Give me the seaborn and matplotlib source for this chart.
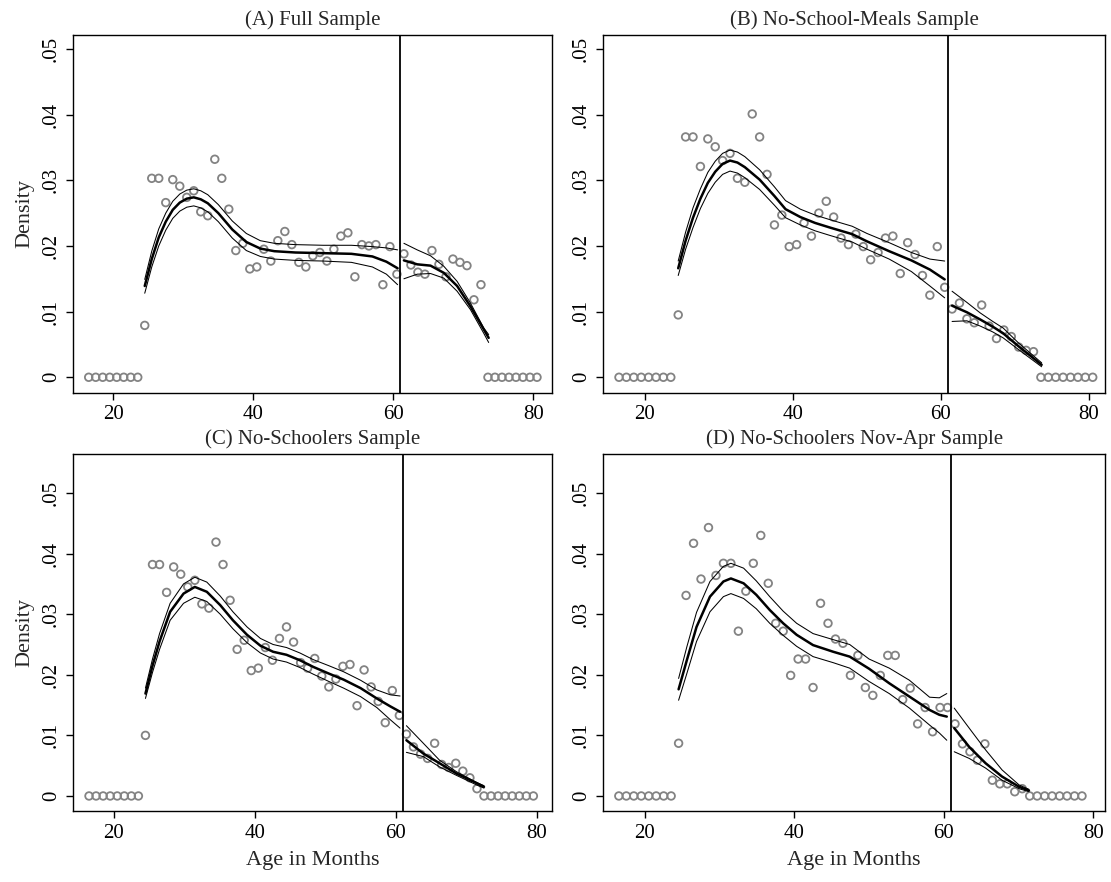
import numpy as np
import pandas as pd
import matplotlib
matplotlib.use("Agg")
import matplotlib.pyplot as plt
import seaborn as sns

# ---------------- data ----------------
CUTOFF = 61

AGES_A = [16.5, 17.5, 18.5, 19.5, 20.5, 21.5, 22.5, 23.5, 24.5, 25.5, 26.5, 27.5, 28.5, 29.5,
          30.5, 31.5, 32.5, 33.5, 34.5, 35.5, 36.5, 37.5, 38.5, 39.5, 40.5, 41.5, 42.5, 43.5,
          44.5, 45.5, 46.5, 47.5, 48.5, 49.5, 50.5, 51.5, 52.5, 53.5, 54.5, 55.5, 56.5, 57.5,
          58.5, 59.5, 60.5, 61.5, 62.5, 63.5, 64.5, 65.5, 66.5, 67.5, 68.5, 69.5, 70.5, 71.5,
          72.5, 73.5, 74.5, 75.5, 76.5, 77.5, 78.5, 79.5, 80.5]
AGES_B = AGES_A
AGES_C = AGES_A[:64]
AGES_D = AGES_A[:63]

DENS_A = [0, 0, 0, 0, 0, 0, 0, 0,
          0.0079, 0.0303, 0.0303, 0.0266, 0.0301, 0.0291, 0.0274, 0.0284, 0.0252, 0.0246,
          0.0332, 0.0303, 0.0256, 0.0193, 0.0204, 0.0165, 0.0168, 0.0195, 0.0177, 0.0208,
          0.0222, 0.0202, 0.0175, 0.0168, 0.0185, 0.0190, 0.0177, 0.0195, 0.0215, 0.0220,
          0.0153, 0.0202, 0.0200, 0.0202, 0.0141, 0.0199, 0.0157, 0.0188, 0.0171, 0.0160,
          0.0157, 0.0193, 0.0172, 0.0153, 0.0180, 0.0175, 0.0170, 0.0118, 0.0141,
          0, 0, 0, 0, 0, 0, 0, 0]
DENS_B = [0, 0, 0, 0, 0, 0, 0, 0,
          0.0095, 0.0366, 0.0366, 0.0321, 0.0363, 0.0351, 0.0330, 0.0341, 0.0303, 0.0297,
          0.0401, 0.0366, 0.0309, 0.0232, 0.0247, 0.0199, 0.0202, 0.0235, 0.0215, 0.0250,
          0.0268, 0.0244, 0.0212, 0.0202, 0.0218, 0.0199, 0.0179, 0.0190, 0.0212, 0.0215,
          0.0158, 0.0205, 0.0187, 0.0155, 0.0125, 0.0199, 0.0137, 0.0104, 0.0113, 0.0089,
          0.0083, 0.0110, 0.0078, 0.0059, 0.0072, 0.0062, 0.0046, 0.0041, 0.0039,
          0, 0, 0, 0, 0, 0, 0, 0]
DENS_C = [0, 0, 0, 0, 0, 0, 0, 0,
          0.0100, 0.0382, 0.0382, 0.0336, 0.0378, 0.0366, 0.0345, 0.0356, 0.0317, 0.0310,
          0.0419, 0.0382, 0.0323, 0.0242, 0.0257, 0.0207, 0.0211, 0.0245, 0.0224, 0.0260,
          0.0279, 0.0254, 0.0220, 0.0211, 0.0227, 0.0198, 0.0180, 0.0193, 0.0214, 0.0217,
          0.0149, 0.0208, 0.0180, 0.0156, 0.0121, 0.0174, 0.0133, 0.0102, 0.0081, 0.0069,
          0.0062, 0.0087, 0.0052, 0.0047, 0.0054, 0.0041, 0.0030, 0.0012,
          0, 0, 0, 0, 0, 0, 0, 0]
DENS_D = [0, 0, 0, 0, 0, 0, 0, 0,
          0.0087, 0.0331, 0.0417, 0.0358, 0.0443, 0.0364, 0.0384, 0.0384, 0.0272, 0.0338,
          0.0384, 0.0430, 0.0351, 0.0285, 0.0272, 0.0199, 0.0226, 0.0226, 0.0179, 0.0318,
          0.0285, 0.0259, 0.0252, 0.0199, 0.0232, 0.0179, 0.0166, 0.0199, 0.0232, 0.0232,
          0.0159, 0.0178, 0.0119, 0.0146, 0.0106, 0.0146, 0.0146, 0.0119, 0.0086, 0.0073,
          0.0059, 0.0086, 0.0026, 0.0020, 0.0020, 0.0007, 0.0012,
          0, 0, 0, 0, 0, 0, 0, 0]

# fitted density (left of cutoff / right of cutoff): estimate, lower CI, upper CI
FIT_A_LX = [24.5, 25.5, 26.5, 27.5, 28.5, 29.5, 30.5, 31.5, 32.5, 33.5, 35, 37, 39, 41, 43, 46, 50, 54, 57, 59, 60.6]
FIT_A_LM = [0.0139, 0.0180, 0.0213, 0.0237, 0.0255, 0.0266, 0.0272, 0.0274, 0.0271, 0.0265, 0.0250,
            0.0225, 0.0206, 0.0196, 0.0192, 0.0190, 0.0189, 0.0188, 0.0184, 0.0176, 0.0166]
FIT_A_LH = [0.0149, 0.0192, 0.0226, 0.0250, 0.0268, 0.0279, 0.0285, 0.0287, 0.0284, 0.0278, 0.0263,
            0.0238, 0.0219, 0.0208, 0.0204, 0.0202, 0.0201, 0.0201, 0.0199, 0.0197, 0.0194]
FIT_A_LL = [0.0128, 0.0168, 0.0200, 0.0224, 0.0242, 0.0253, 0.0259, 0.0261, 0.0258, 0.0252, 0.0237,
            0.0212, 0.0193, 0.0184, 0.0180, 0.0178, 0.0177, 0.0175, 0.0168, 0.0157, 0.0141]
FIT_A_RX = [61.5, 63.4, 65.3, 67.2, 69.1, 71.0, 72.9, 73.6]
FIT_A_RM = [0.0178, 0.0172, 0.0170, 0.0159, 0.0139, 0.0108, 0.0073, 0.0060]
FIT_A_RH = [0.0204, 0.0194, 0.0185, 0.0169, 0.0146, 0.0113, 0.0075, 0.0065]
FIT_A_RL = [0.0150, 0.0157, 0.0158, 0.0151, 0.0131, 0.0103, 0.0067, 0.0053]

FIT_B_LX = [24.5, 25.5, 26.5, 27.5, 28.5, 29.5, 30.5, 31.5, 32.5, 33.5, 35.5, 37.5, 39, 41, 43, 45, 48, 50, 53, 56, 58.5, 60.5]
FIT_B_LM = [0.0166, 0.0208, 0.0243, 0.0272, 0.0296, 0.0313, 0.0325, 0.0330, 0.0327, 0.0320, 0.0301,
            0.0276, 0.0256, 0.0244, 0.0235, 0.0228, 0.0218, 0.0207, 0.0192, 0.0178, 0.0164, 0.0149]
FIT_B_LH = [0.0177, 0.0221, 0.0258, 0.0287, 0.0312, 0.0329, 0.0341, 0.0346, 0.0343, 0.0336, 0.0316,
            0.0290, 0.0269, 0.0256, 0.0247, 0.0240, 0.0230, 0.0219, 0.0205, 0.0190, 0.0180, 0.0177]
FIT_B_LL = [0.0155, 0.0195, 0.0228, 0.0257, 0.0280, 0.0297, 0.0309, 0.0314, 0.0311, 0.0304, 0.0286,
            0.0262, 0.0243, 0.0232, 0.0223, 0.0216, 0.0206, 0.0195, 0.0180, 0.0161, 0.0139, 0.0121]
FIT_B_RX = [61.5, 63.5, 65.3, 67.0, 68.4, 70.5, 73.6]
FIT_B_RM = [0.0109, 0.0099, 0.0088, 0.0077, 0.0067, 0.0047, 0.0019]
FIT_B_RH = [0.0131, 0.0114, 0.0098, 0.0085, 0.0075, 0.0052, 0.0022]
FIT_B_RL = [0.0085, 0.0086, 0.0078, 0.0069, 0.0060, 0.0042, 0.0016]

FIT_C_LX = [24.5, 25.5, 26.5, 28.0, 29.9, 31.5, 33.2, 35.1, 36.9, 38.9, 40.8, 42.6, 44.5, 46.4, 48.3, 50.5, 52.6, 55.0, 57.3, 59.2, 60.6]
FIT_C_LM = [0.0169, 0.0215, 0.0255, 0.0304, 0.0334, 0.0345, 0.0337, 0.0315, 0.0290, 0.0266, 0.0248,
            0.0238, 0.0233, 0.0224, 0.0213, 0.0202, 0.0192, 0.0178, 0.0161, 0.0148, 0.0139]
FIT_C_LH = [0.0178, 0.0226, 0.0268, 0.0318, 0.0350, 0.0361, 0.0353, 0.0330, 0.0304, 0.0279, 0.0260,
            0.0250, 0.0245, 0.0236, 0.0225, 0.0215, 0.0205, 0.0191, 0.0175, 0.0167, 0.0165]
FIT_C_LL = [0.0161, 0.0204, 0.0242, 0.0290, 0.0318, 0.0328, 0.0321, 0.0300, 0.0276, 0.0253, 0.0236,
            0.0226, 0.0221, 0.0212, 0.0201, 0.0189, 0.0178, 0.0164, 0.0146, 0.0126, 0.0112]
FIT_C_RX = [61.5, 63.9, 66.2, 68.6, 71.5, 72.5]
FIT_C_RM = [0.0092, 0.0070, 0.0054, 0.0037, 0.0021, 0.0015]
FIT_C_RH = [0.0116, 0.0087, 0.0059, 0.0040, 0.0022, 0.0017]
FIT_C_RL = [0.0072, 0.0065, 0.0048, 0.0034, 0.0018, 0.0013]

FIT_D_LX = [24.5, 25.6, 26.9, 28.7, 30.5, 31.5, 33.2, 34.9, 36.7, 38.5, 40.3, 42.5, 45.2, 47.4, 50.0, 52.7, 55.4, 58.1, 59.4, 60.4]
FIT_D_LM = [0.0176, 0.0224, 0.0279, 0.0329, 0.0354, 0.0359, 0.0351, 0.0332, 0.0307, 0.0285, 0.0266,
            0.0249, 0.0238, 0.0230, 0.0210, 0.0186, 0.0164, 0.0142, 0.0134, 0.0131]
FIT_D_LH = [0.0194, 0.0246, 0.0303, 0.0354, 0.0379, 0.0384, 0.0376, 0.0355, 0.0329, 0.0305, 0.0285,
            0.0268, 0.0258, 0.0250, 0.0226, 0.0211, 0.0191, 0.0163, 0.0162, 0.0169]
FIT_D_LL = [0.0158, 0.0202, 0.0255, 0.0304, 0.0329, 0.0334, 0.0326, 0.0309, 0.0285, 0.0265, 0.0247,
            0.0230, 0.0220, 0.0211, 0.0189, 0.0169, 0.0145, 0.0117, 0.0104, 0.0092]
FIT_D_RX = [61.4, 63.4, 65.6, 67.8, 70.1, 71.4]
FIT_D_RM = [0.0112, 0.0081, 0.0054, 0.0032, 0.0015, 0.0009]
FIT_D_RH = [0.0145, 0.0112, 0.0076, 0.0043, 0.0018, 0.0011]
FIT_D_RL = [0.0073, 0.0062, 0.0046, 0.0026, 0.0012, 0.0007]

TITLES = ["(A) Full Sample", "(B) No-School-Meals Sample",
          "(C) No-Schoolers Sample", "(D) No-Schoolers Nov-Apr Sample"]
XTICKS = [20, 40, 60, 80]
YTICKS = [0, 0.01, 0.02, 0.03, 0.04, 0.05]
YTICKLABELS = ["0", ".01", ".02", ".03", ".04", ".05"]

# ---------------- style ----------------
sns.set_theme(style="white")
plt.rcParams["font.family"] = ["Liberation Serif", "DejaVu Serif"]
plt.rcParams["axes.edgecolor"] = "black"
plt.rcParams["axes.linewidth"] = 1.0
plt.rcParams["xtick.color"] = "black"
plt.rcParams["ytick.color"] = "black"

W, H = 1111, 882
fig = plt.figure(figsize=(W / 100, H / 100), dpi=100)
fig.patch.set_facecolor("white")


def box(l, r, t, b):
    return [l / W, 1 - b / H, (r - l) / W, (b - t) / H]


panels = [
    dict(rect=box(73.3, 551.7, 34.5, 392.7), xlim=(14.3, 82.6), ylim=(-0.00235, 0.0522),
         ages=AGES_A, dens=DENS_A,
         left=(FIT_A_LX, FIT_A_LM, FIT_A_LL, FIT_A_LH), right=(FIT_A_RX, FIT_A_RM, FIT_A_RL, FIT_A_RH),
         ylabel=True, xlabel=False),
    dict(rect=box(603.3, 1105, 34.5, 392.7), xlim=(14.38, 82.16), ylim=(-0.00235, 0.0522),
         ages=AGES_B, dens=DENS_B,
         left=(FIT_B_LX, FIT_B_LM, FIT_B_LL, FIT_B_LH), right=(FIT_B_RX, FIT_B_RM, FIT_B_RL, FIT_B_RH),
         ylabel=False, xlabel=False),
    dict(rect=box(73.3, 551.7, 454, 811), xlim=(14.27, 82.1), ylim=(-0.00248, 0.05644),
         ages=AGES_C, dens=DENS_C,
         left=(FIT_C_LX, FIT_C_LM, FIT_C_LL, FIT_C_LH), right=(FIT_C_RX, FIT_C_RM, FIT_C_RL, FIT_C_RH),
         ylabel=True, xlabel=True),
    dict(rect=box(603.3, 1105, 454, 811), xlim=(14.42, 81.58), ylim=(-0.00248, 0.05644),
         ages=AGES_D, dens=DENS_D,
         left=(FIT_D_LX, FIT_D_LM, FIT_D_LL, FIT_D_LH), right=(FIT_D_RX, FIT_D_RM, FIT_D_RL, FIT_D_RH),
         ylabel=False, xlabel=True),
]

for p, title in zip(panels, TITLES):
    ax = fig.add_axes(p["rect"])
    ax.set_facecolor("white")
    pts = pd.DataFrame({"age": p["ages"], "density": p["dens"]})
    sns.scatterplot(data=pts, x="age", y="density", ax=ax, marker="o", s=30,
                    facecolor="none", edgecolor="#838383", linewidth=1.3, zorder=2)
    for seg in (p["left"], p["right"]):
        xs, mid, lo, hi = seg
        for ys, lw in ((lo, 0.75), (hi, 0.75), (mid, 1.8)):
            sns.lineplot(x=xs, y=ys, ax=ax, color="black", linewidth=lw,
                         estimator=None, sort=False, zorder=3)
    ax.axvline(CUTOFF, color="black", linewidth=1.3, zorder=4)

    ax.set_xlim(*p["xlim"])
    ax.set_ylim(*p["ylim"])
    ax.set_xticks(XTICKS)
    ax.set_yticks(YTICKS)
    ax.set_yticklabels(YTICKLABELS, rotation=90, va="center")
    ax.tick_params(axis="both", direction="out", length=5, width=1.0,
                   labelsize=15, pad=4, bottom=True, left=True, top=False, right=False)
    for sp in ax.spines.values():
        sp.set_visible(True)
        sp.set_color("black")
        sp.set_linewidth(1.0)
    ax.set_title(title, fontsize=15, pad=7)
    ax.set_ylabel("Density" if p["ylabel"] else "", fontsize=16, labelpad=5)
    ax.set_xlabel("Age in Months" if p["xlabel"] else "", fontsize=16, labelpad=6)

fig.savefig("out.png", dpi=100, facecolor="white")
